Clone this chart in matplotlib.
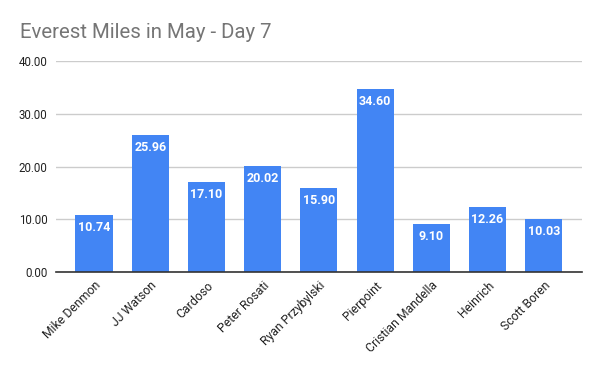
import matplotlib
matplotlib.use("Agg")
import matplotlib.pyplot as plt

names = ["Mike Denmon", "JJ Watson", "Cardoso", "Peter Rosati", "Ryan Przybylski",
         "Pierpoint", "Cristian Mandella", "Heinrich", "Scott Boren"]
miles = [10.74, 25.96, 17.10, 20.02, 15.90, 34.60, 9.10, 12.26, 10.03]
yticks = [0, 10, 20, 30, 40]
title = "Everest Miles in May - Day 7"

plt.rcParams['font.family'] = ['Roboto', 'DejaVu Sans']

fig = plt.figure(figsize=(6, 3.71), dpi=100)
ax = fig.add_axes([56/600, 1-272/371, (582-56)/600, (272-61)/371])

x = list(range(len(names)))
bars = ax.bar(x, miles, width=0.66, color="#4285F4", zorder=3)
for xi, v in zip(x, miles):
    ax.annotate(f"{v:.2f}", xy=(xi, v), xytext=(0, -9), textcoords="offset points",
                ha="center", va="center", color="white", fontsize=9, fontweight="bold", zorder=4)

ax.set_xlim(-0.676, len(names) - 1 + 0.68)
ax.set_ylim(0, 40)
ax.set_yticks(yticks)
ax.set_yticklabels([f"{t:.2f}" for t in yticks], fontsize=8.3, color="#222222")
ax.set_xticks(x)
ax.set_xticklabels(names, rotation=45, ha="right", rotation_mode="anchor", fontsize=8.8, color="#222222")
ax.tick_params(axis="both", length=0, pad=6)
ax.tick_params(axis="x", pad=5)
ax.grid(axis="y", color="#cccccc", linewidth=1.0, zorder=0)
for s in ["top", "right", "left"]:
    ax.spines[s].set_visible(False)
ax.spines["bottom"].set_color("#333333")
ax.spines["bottom"].set_linewidth(1.2)
ax.spines["bottom"].set_zorder(5)

fig.text(20/600, 1-32/371, title, fontsize=14.7, color="#757575", ha="left", va="center")

fig.savefig("out.png", dpi=100)
